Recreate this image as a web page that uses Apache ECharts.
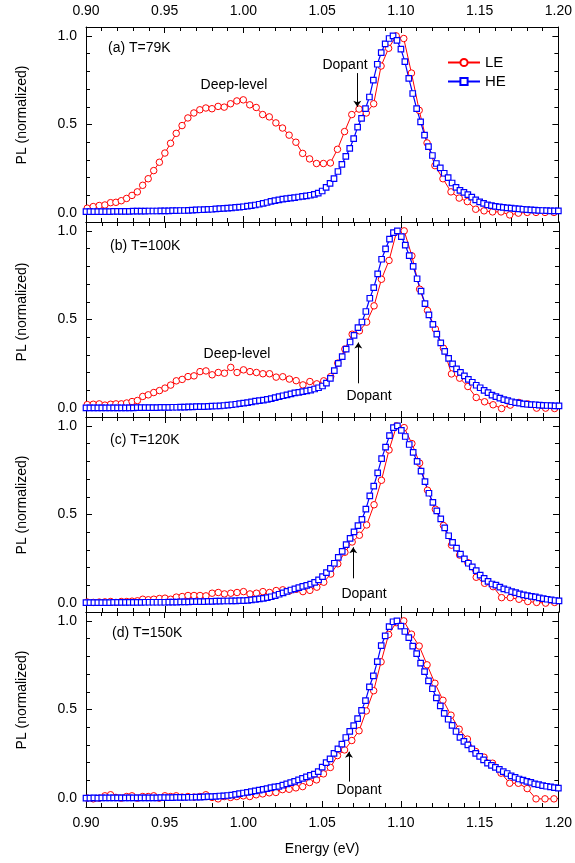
<!DOCTYPE html>
<html>
<head>
<meta charset="utf-8">
<script src="https://cdn.jsdelivr.net/npm/echarts@6/dist/echarts.min.js"></script>
<style>html,body{margin:0;padding:0;background:#fff}#c{width:575px;height:863px}</style>
</head>
<body>
<div id="c"></div>
<script>
// ---- data ----
const energyLE = [0.9008,0.9046,0.9084,0.9120,0.9156,0.9190,0.9224,0.9258,0.9292,0.9326,
0.9360,0.9395,0.9430,0.9466,0.9501,0.9537,0.9573,0.9610,0.9647,0.9685,
0.9723,0.9761,0.9800,0.9839,0.9878,0.9918,0.9958,0.9999,1.0040,1.0081,
1.0122,1.0164,1.0206,1.0248,1.0290,1.0333,1.0376,1.0420,1.0464,1.0508,
1.0552,1.0597,1.0642,1.0688,1.0734,1.0780,1.0827,1.0874,1.0922,1.0970,
1.1018,1.1067,1.1116,1.1166,1.1216,1.1267,1.1318,1.1370,1.1422,1.1475,
1.1528,1.1582,1.1636,1.1691,1.1746,1.1802,1.1858,1.1915,1.1972];

const energyHE = [0.9000,0.9025,0.9050,0.9075,0.9100,0.9125,0.9150,0.9175,0.9200,0.9225,
0.9250,0.9275,0.9300,0.9325,0.9350,0.9375,0.9400,0.9425,0.9450,0.9475,
0.9500,0.9525,0.9550,0.9575,0.9600,0.9625,0.9650,0.9675,0.9700,0.9725,
0.9750,0.9775,0.9800,0.9825,0.9850,0.9875,0.9900,0.9925,0.9950,0.9975,
1.0000,1.0025,1.0050,1.0075,1.0100,1.0125,1.0150,1.0175,1.0200,1.0225,
1.0250,1.0275,1.0300,1.0325,1.0350,1.0375,1.0400,1.0425,1.0450,1.0475,
1.0500,1.0525,1.0550,1.0575,1.0600,1.0625,1.0650,1.0675,1.0700,1.0725,
1.0750,1.0775,1.0800,1.0825,1.0850,1.0875,1.0900,1.0925,1.0950,1.0975,
1.1000,1.1025,1.1050,1.1075,1.1100,1.1125,1.1150,1.1175,1.1200,1.1225,
1.1250,1.1275,1.1300,1.1325,1.1350,1.1375,1.1400,1.1425,1.1450,1.1475,
1.1500,1.1525,1.1550,1.1575,1.1600,1.1625,1.1650,1.1675,1.1700,1.1725,
1.1750,1.1775,1.1800,1.1825,1.1850,1.1875,1.1900,1.1925,1.1950,1.1975,
1.2000];

// LE series (red circles)
const le79K = [0.028,0.037,0.043,0.046,0.059,0.061,0.070,0.083,0.100,0.120,
0.157,0.194,0.240,0.287,0.339,0.394,0.450,0.494,0.537,0.565,
0.583,0.593,0.589,0.602,0.598,0.617,0.633,0.639,0.611,0.596,
0.556,0.543,0.509,0.480,0.440,0.400,0.337,0.306,0.280,0.280,
0.283,0.360,0.460,0.556,0.587,0.565,0.617,0.830,0.930,1.000,
0.985,0.790,0.580,0.396,0.268,0.194,0.120,0.085,0.065,0.022,
0.013,0.007,0.007,-0.010,0.000,0.004,0.004,0.004,0.004];
const le100K = [0.020,0.022,0.024,0.017,0.022,0.024,0.024,0.029,0.037,0.043,
0.066,0.075,0.088,0.099,0.113,0.130,0.154,0.162,0.178,0.182,
0.206,0.210,0.188,0.201,0.197,0.230,0.201,0.216,0.206,0.201,
0.194,0.194,0.175,0.177,0.164,0.155,0.131,0.150,0.137,0.154,
0.178,0.254,0.333,0.417,0.436,0.485,0.577,0.727,0.833,0.995,
1.000,0.859,0.671,0.551,0.446,0.338,0.193,0.169,0.122,0.060,
0.036,0.019,-0.002,0.017,0.032,0.024,0.000,0.000,-0.002];
const le120K = [0.006,0.004,0.006,0.007,0.009,0.004,0.009,0.009,0.011,0.013,
0.022,0.019,0.022,0.026,0.028,0.022,0.034,0.037,0.043,0.043,
0.043,0.041,0.056,0.060,0.052,0.056,0.060,0.065,0.052,0.056,
0.065,0.060,0.071,0.075,0.069,0.078,0.065,0.072,0.090,0.118,
0.164,0.222,0.287,0.345,0.383,0.441,0.555,0.693,0.864,1.000,
0.990,0.900,0.790,0.637,0.530,0.438,0.327,0.271,0.228,0.146,
0.112,0.093,0.031,0.031,0.022,0.009,0.004,0.000,0.004];
const le150K = [0.000,-0.004,0.000,0.013,0.019,0.004,0.000,0.009,0.013,0.000,
0.009,0.009,0.013,0.000,0.013,0.009,0.013,0.006,0.009,0.006,
0.009,0.019,0.004,-0.004,0.009,0.004,0.009,0.013,0.009,0.019,
0.024,0.030,0.032,0.048,0.050,0.058,0.065,0.088,0.103,0.137,
0.173,0.240,0.272,0.325,0.380,0.492,0.606,0.769,0.923,0.990,
1.000,0.925,0.858,0.752,0.648,0.552,0.468,0.389,0.333,0.263,
0.231,0.197,0.141,0.084,0.084,0.054,-0.004,-0.004,-0.004];

// HE series (blue squares)
const he79K = [0.008,0.008,0.008,0.009,0.009,0.009,0.009,0.010,0.010,0.010,
0.010,0.010,0.011,0.011,0.011,0.011,0.012,0.012,0.012,0.013,
0.013,0.013,0.014,0.014,0.015,0.015,0.016,0.017,0.018,0.019,
0.020,0.021,0.022,0.024,0.025,0.027,0.028,0.030,0.032,0.034,
0.036,0.039,0.042,0.046,0.050,0.055,0.060,0.066,0.071,0.075,
0.079,0.082,0.085,0.088,0.091,0.094,0.097,0.101,0.106,0.113,
0.125,0.145,0.168,0.195,0.235,0.275,0.320,0.365,0.420,0.485,
0.535,0.590,0.655,0.750,0.840,0.905,0.955,0.985,1.000,0.975,
0.925,0.855,0.760,0.675,0.590,0.515,0.440,0.375,0.325,0.280,
0.255,0.225,0.200,0.170,0.145,0.128,0.117,0.104,0.090,0.075,
0.064,0.055,0.047,0.042,0.038,0.035,0.032,0.030,0.028,0.026,
0.024,0.022,0.020,0.018,0.017,0.016,0.015,0.014,0.013,0.013,
0.013];
const he100K = [0.001,0.001,0.001,0.001,0.001,0.001,0.002,0.002,0.002,0.002,
0.002,0.002,0.002,0.003,0.003,0.003,0.003,0.003,0.003,0.004,
0.004,0.004,0.005,0.005,0.006,0.006,0.007,0.007,0.008,0.008,
0.009,0.010,0.011,0.012,0.013,0.015,0.017,0.019,0.022,0.025,
0.028,0.031,0.035,0.039,0.042,0.045,0.049,0.054,0.059,0.065,
0.070,0.075,0.081,0.086,0.089,0.093,0.097,0.102,0.108,0.115,
0.125,0.141,0.168,0.212,0.253,0.291,0.333,0.373,0.410,0.454,
0.486,0.545,0.620,0.680,0.757,0.840,0.898,0.953,0.990,1.000,
0.968,0.920,0.860,0.800,0.730,0.660,0.590,0.526,0.472,0.418,
0.368,0.320,0.281,0.250,0.222,0.202,0.182,0.162,0.146,0.129,
0.115,0.100,0.087,0.073,0.065,0.056,0.048,0.042,0.036,0.031,
0.028,0.024,0.022,0.020,0.019,0.017,0.016,0.015,0.014,0.013,
0.013];
const he120K = [0.003,0.003,0.003,0.003,0.003,0.003,0.003,0.004,0.004,0.004,
0.004,0.004,0.004,0.004,0.004,0.005,0.005,0.005,0.005,0.005,
0.005,0.006,0.006,0.006,0.007,0.007,0.007,0.008,0.008,0.009,
0.009,0.010,0.010,0.011,0.011,0.012,0.012,0.013,0.013,0.014,
0.014,0.016,0.018,0.021,0.024,0.027,0.031,0.036,0.042,0.050,
0.058,0.066,0.074,0.081,0.088,0.094,0.100,0.107,0.117,0.131,
0.150,0.172,0.196,0.225,0.258,0.292,0.330,0.365,0.402,0.437,
0.473,0.530,0.605,0.660,0.735,0.815,0.880,0.945,0.990,1.000,
0.975,0.940,0.895,0.850,0.800,0.745,0.685,0.620,0.568,0.520,
0.475,0.425,0.380,0.343,0.310,0.276,0.250,0.225,0.205,0.183,
0.158,0.140,0.123,0.108,0.102,0.090,0.080,0.074,0.065,0.059,
0.052,0.047,0.042,0.038,0.035,0.030,0.026,0.022,0.018,0.015,
0.013];
const he150K = [0.000,0.000,0.001,0.000,0.001,0.001,0.001,0.001,0.001,0.001,
0.001,0.002,0.002,0.002,0.002,0.002,0.002,0.002,0.002,0.003,
0.003,0.003,0.003,0.004,0.004,0.004,0.005,0.005,0.006,0.006,
0.007,0.008,0.009,0.010,0.012,0.013,0.015,0.017,0.021,0.025,
0.029,0.033,0.037,0.041,0.045,0.049,0.054,0.059,0.063,0.066,
0.073,0.080,0.087,0.094,0.103,0.112,0.120,0.128,0.136,0.150,
0.175,0.200,0.222,0.252,0.278,0.305,0.342,0.377,0.409,0.448,
0.495,0.550,0.628,0.690,0.770,0.860,0.915,0.968,0.995,1.000,
0.970,0.940,0.905,0.858,0.815,0.762,0.714,0.662,0.617,0.566,
0.520,0.478,0.445,0.410,0.376,0.343,0.320,0.300,0.278,0.252,
0.236,0.216,0.197,0.185,0.174,0.162,0.150,0.139,0.126,0.117,
0.108,0.102,0.095,0.089,0.081,0.076,0.071,0.067,0.063,0.059,
0.056];

const panelLabels = ['(a) T=79K', '(b) T=100K', '(c) T=120K', '(d) T=150K'];
const xTickLabels = ['0.90','0.95','1.00','1.05','1.10','1.15','1.20'];
const yMajorTicks = [0.0, 0.5, 1.0];
const yMinorTicks = [0.1, 0.2, 0.3, 0.4, 0.6, 0.7, 0.8, 0.9];
// "Dopant" arrows [energy, y start, y end (tip)]
const dopantArrows = [[1.0723, 0.79, 0.60],[1.0727, 0.14, 0.37],[1.0695, 0.14, 0.315],[1.067, 0.093, 0.262]];

// ---- build chart ----
const leSets = [le79K, le100K, le120K, le150K];
const heSets = [he79K, he100K, he120K, he150K];
const FONT = '"Liberation Sans", Arial, Helvetica, sans-serif';
const tops = [27, 222, 417, 612];
const H = 195;
const zip = (xs, ys) => xs.map((x, k) => [x, ys[k]]);

const grid = tops.map(t => ({left: 86, right: 16, top: t, height: H}));
const xAxis = [], yAxis = [], series = [];
const axisLineStyle = {color: '#000', width: 1};
const labelStyle = {fontSize: 14, color: '#000', fontFamily: FONT};

for (let i = 0; i < 4; i++) {
  ['bottom', 'top'].forEach(pos => {
    const showLab = (pos === 'bottom' && i === 3) || (pos === 'top' && i === 0);
    xAxis.push({
      type: 'value', gridIndex: i, position: pos, min: 0.9, max: 1.2, interval: 0.05,
      axisLine: {show: true, onZero: false, lineStyle: axisLineStyle},
      axisTick: {show: true, inside: true, length: 6, lineStyle: {color: '#000', width: 1}},
      minorTick: {show: true, splitNumber: 5, length: 4, lineStyle: {color: '#000', width: 1}},
      splitLine: {show: false}, minorSplitLine: {show: false},
      axisLabel: Object.assign({show: showLab, margin: 9, showMinLabel: true, showMaxLabel: true,
        formatter: v => xTickLabels[Math.round((v - 0.9) / 0.05)]}, labelStyle),
      name: (pos === 'bottom' && i === 3) ? 'Energy (eV)' : '',
      nameLocation: 'middle', nameGap: 35,
      nameTextStyle: {fontSize: 14, color: '#000', fontFamily: FONT}
    });
  });
  const yBase = {type: 'value', gridIndex: i, min: -0.05, max: 1.05, splitLine: {show: false}};
  yAxis.push(Object.assign({}, yBase, {position: 'left',
    axisLine: {show: true, onZero: false, lineStyle: axisLineStyle},
    axisTick: {show: true, inside: true, length: 6, customValues: yMajorTicks, lineStyle: {color: '#000'}},
    axisLabel: Object.assign({show: true, margin: 9, customValues: yMajorTicks, formatter: v => v.toFixed(1)}, labelStyle)}));
  yAxis.push(Object.assign({}, yBase, {position: 'right',
    axisLine: {show: true, onZero: false, lineStyle: axisLineStyle},
    axisTick: {show: true, inside: true, length: 6, customValues: yMajorTicks, lineStyle: {color: '#000'}},
    axisLabel: {show: false}}));
  yAxis.push(Object.assign({}, yBase, {position: 'left',
    axisLine: {show: false, onZero: false},
    axisTick: {show: true, inside: true, length: 4, customValues: yMinorTicks, lineStyle: {color: '#000'}},
    axisLabel: {show: false}}));
  yAxis.push(Object.assign({}, yBase, {position: 'right',
    axisLine: {show: false, onZero: false},
    axisTick: {show: true, inside: true, length: 4, customValues: yMinorTicks, lineStyle: {color: '#000'}},
    axisLabel: {show: false}}));

  const a = dopantArrows[i];
  series.push({
    name: 'LE', type: 'line', xAxisIndex: 2 * i, yAxisIndex: 4 * i,
    data: zip(energyLE, leSets[i]),
    symbol: 'circle', symbolSize: 6.5, showSymbol: true, showAllSymbol: true,
    itemStyle: {color: '#fff', borderColor: '#ff0000', borderWidth: 1},
    lineStyle: {color: '#ff0000', width: 1},
    emphasis: {disabled: true},
    markLine: {
      silent: true, animation: false, symbol: ['none', 'arrow'], symbolSize: 6,
      label: {show: false}, lineStyle: {color: '#000', width: 1, type: 'solid'},
      emphasis: {disabled: true},
      data: [[{coord: [a[0], a[1]]}, {coord: [a[0], a[2]]}]]
    }
  });
  series.push({
    name: 'HE', type: 'line', xAxisIndex: 2 * i, yAxisIndex: 4 * i,
    data: zip(energyHE, heSets[i]),
    symbol: 'rect', symbolSize: 5.5, showSymbol: true, showAllSymbol: true,
    itemStyle: {color: '#fff', borderColor: '#0000ff', borderWidth: 1.2},
    lineStyle: {color: '#0000ff', width: 1.2},
    emphasis: {disabled: true}
  });
}

function txt(text, x, y, opts) {
  return Object.assign({type: 'text', x: x, y: y, silent: true,
    style: {text: text, fontSize: 14, fontFamily: FONT, fill: '#000', align: 'center', verticalAlign: 'middle'}}, opts || {});
}
function leftTxt(text, x, y) {
  return {type: 'text', x: x, y: y, silent: true,
    style: {text: text, fontSize: 14, fontFamily: FONT, fill: '#000', align: 'left', verticalAlign: 'middle'}};
}
const graphic = [
  leftTxt(panelLabels[0], 108, 48),
  leftTxt(panelLabels[1], 110, 246),
  leftTxt(panelLabels[2], 110, 440),
  leftTxt(panelLabels[3], 112, 633),
  txt('Deep-level', 234, 85),
  txt('Deep-level', 237, 354),
  txt('Dopant', 345, 65),
  txt('Dopant', 369, 396),
  txt('Dopant', 364, 594),
  txt('Dopant', 359, 790),
  txt('PL (normalized)', 22, 115, {rotation: Math.PI / 2}),
  txt('PL (normalized)', 22, 312, {rotation: Math.PI / 2}),
  txt('PL (normalized)', 22, 505, {rotation: Math.PI / 2}),
  txt('PL (normalized)', 22, 700, {rotation: Math.PI / 2})
];

const chart = echarts.init(document.getElementById('c'), null, {renderer: 'canvas'});
chart.setOption({
  animation: false,
  backgroundColor: '#fff',
  legend: {
    data: ['LE', 'HE'], orient: 'vertical', left: 442, top: 50,
    itemWidth: 32, itemHeight: 9, itemGap: 4,
    textStyle: {fontSize: 15, color: '#000', fontFamily: FONT},
    selectedMode: false
  },
  grid: grid, xAxis: xAxis, yAxis: yAxis, series: series, graphic: graphic
});
</script>
</body>
</html>
